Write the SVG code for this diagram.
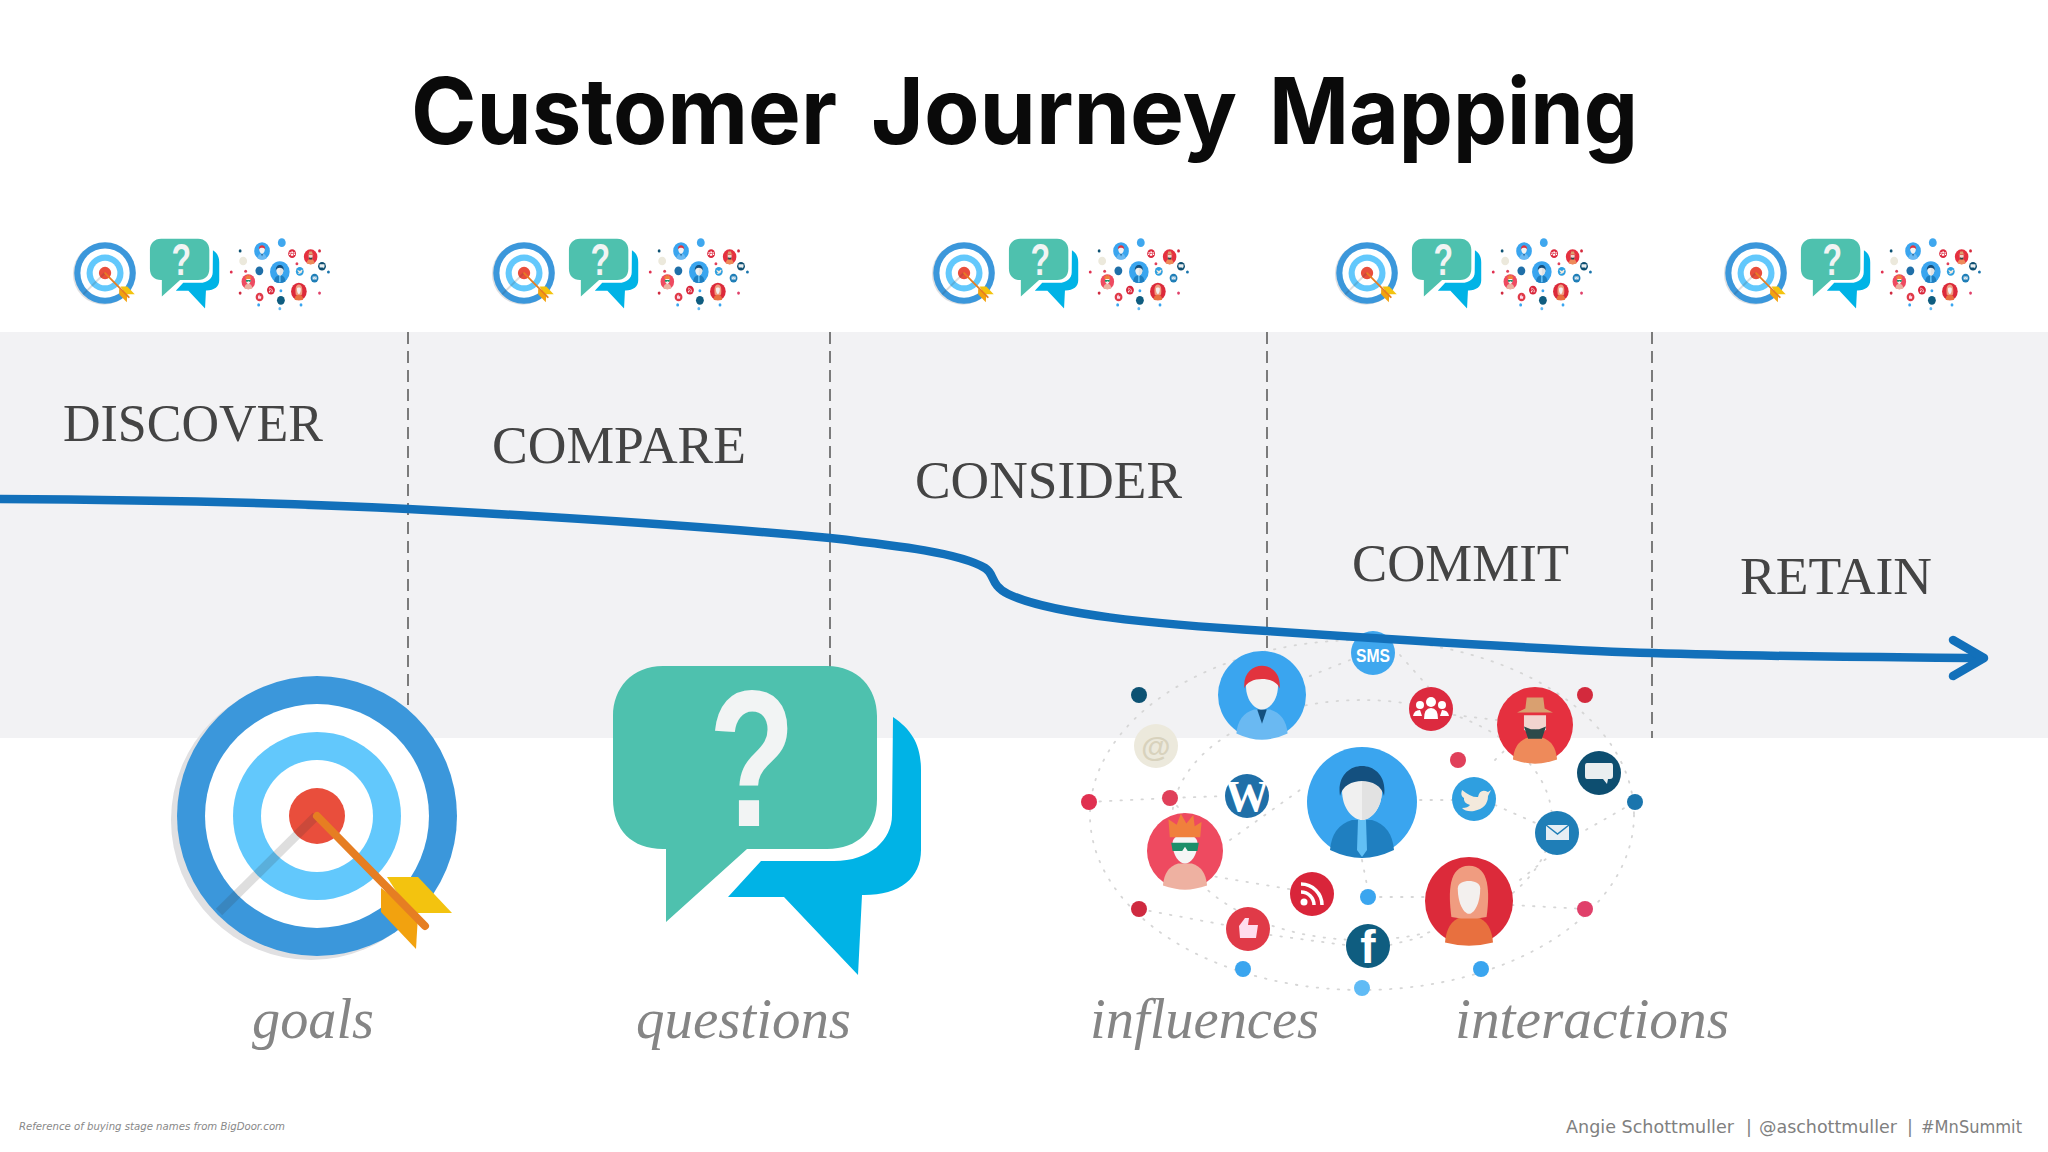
<svg xmlns="http://www.w3.org/2000/svg" xmlns:xlink="http://www.w3.org/1999/xlink" width="2048" height="1152" viewBox="0 0 2048 1152">
<style>
.title{font-family:"Inter","DejaVu Sans",sans-serif;font-weight:700;font-size:92px;fill:#0a0a0a}
.stage{font-family:"Liberation Serif","Times New Roman",serif;font-size:52px;fill:#444}
.cap{font-family:"Liberation Serif","Times New Roman",serif;font-style:italic;font-size:56px;fill:#858585}
.foot{font-family:"DejaVu Sans",sans-serif;font-size:17.500px;fill:#808080}
.ref{font-family:"DejaVu Sans",sans-serif;font-style:italic;font-size:11px;fill:#888}
.qm{font-family:"Liberation Sans",Arial,sans-serif;font-weight:700;font-size:195px;fill:#f2f4f4}
.gl{font-family:"Liberation Sans",Arial,sans-serif;font-weight:700;fill:#fff;text-anchor:middle}
.div{stroke:#7b7b7b;stroke-width:2;stroke-dasharray:12 7;fill:none}
.dots{stroke:#d6d6d6;stroke-width:1.800;stroke-dasharray:1.500 9;stroke-linecap:round;fill:none}
.curve{stroke:#1270ba;stroke-width:8.500;fill:none;stroke-linecap:round;stroke-linejoin:round}
</style>
<defs>
<g id="target">
<circle cx="311" cy="820" r="140" fill="#e0e0e2"/>
<circle cx="317" cy="816" r="140" fill="#3b97db"/>
<circle cx="317" cy="816" r="112" fill="#fff"/>
<circle cx="317" cy="816" r="84" fill="#62c8fc"/>
<circle cx="317" cy="816" r="56" fill="#fff"/>
<circle cx="317" cy="816" r="28" fill="#e94e3c"/>
<path d="M316 816L219 912" stroke="#333" stroke-opacity=".16" stroke-width="9" fill="none"/>
<path d="M381 888L418 915L416 949L381 912Z" fill="#f2a20f"/>
<path d="M387 877L418 877L452 913L410 913Z" fill="#f3c30f"/>
<path d="M317 816L425 926" stroke="#e67e22" stroke-width="8" stroke-linecap="round" fill="none"/>
</g>
<g id="bubbles">
<path d="M893 717C912 730 921 745 921 770L921 850C921 878 900 895 864 895L862 895L858 975L784 897L728 897L761 861L834 861C870 861 892 840 892 815Z" fill="#00b3e6"/>
<path d="M663 666L827 666C858 666 877 688 877 716L877 799C877 830 858 849 827 849L747 849L666 922L666 849L663 849C632 849 613 830 613 799L613 716C613 688 632 666 663 666Z" fill="#4ec1ae"/>
<text class="qm" text-anchor="middle" transform="translate(752 826) scale(.73 1)">?</text>
</g>
<g id="net-base">
<circle cx="1262" cy="695" r="44" fill="#3aa5ef"/>
<circle cx="1373" cy="653" r="22" fill="#3fa7ee"/>
<circle cx="1431" cy="709" r="22" fill="#dc2a3f"/>
<circle cx="1535" cy="725" r="38" fill="#e5303f"/>
<circle cx="1585" cy="695" r="8" fill="#d32a3d"/>
<circle cx="1139" cy="695" r="8" fill="#0d5273"/>
<circle cx="1156" cy="746" r="22" fill="#ece9dc"/>
<circle cx="1599" cy="773" r="22" fill="#0d4e70"/>
<circle cx="1362" cy="802" r="55" fill="#3aa5ef"/>
<circle cx="1458" cy="760" r="8" fill="#e0405a"/>
<circle cx="1474" cy="799" r="22" fill="#2f9fe0"/>
<circle cx="1247" cy="796" r="22" fill="#1f6fa8"/>
<circle cx="1089" cy="802" r="8" fill="#e03050"/>
<circle cx="1170" cy="798" r="8" fill="#e0405a"/>
<circle cx="1635" cy="802" r="8" fill="#1a75ad"/>
<circle cx="1557" cy="833" r="22" fill="#1f7eb7"/>
<circle cx="1185" cy="851" r="38" fill="#ee4a60"/>
<circle cx="1312" cy="894" r="22" fill="#d9253a"/>
<circle cx="1368" cy="897" r="8" fill="#3aa5ef"/>
<circle cx="1469" cy="901" r="44" fill="#dc2a3a"/>
<circle cx="1139" cy="909" r="8" fill="#cf2a40"/>
<circle cx="1585" cy="909" r="8" fill="#e0406a"/>
<circle cx="1248" cy="929" r="22" fill="#e03a48"/>
<circle cx="1368" cy="946" r="22" fill="#0f5d80"/>
<circle cx="1243" cy="969" r="8" fill="#3aa5ef"/>
<circle cx="1481" cy="969" r="8" fill="#3aa5ef"/>
<circle cx="1362" cy="988" r="8" fill="#60bbf5"/>
<!-- avatars -->
<g transform="translate(1362 802)">
<path d="M-32 48Q-30 24-10 18L10 18Q30 24 32 48Q15 56 0 56Q-15 56-32 48Z" fill="#1f7fc0"/>
<path d="M-4 18L4 18L5 48L0 55L-5 48Z" fill="#62c0f5"/>
<path d="M-20-12C-20-28 20-28 20-12C20 8 8 18 0 18C-8 18-20 8-20-12Z" fill="#f0f0f0"/>
<path d="M0-26C12-26 20-22 20-12C20 8 8 18 0 18Z" fill="#e2e2e2"/>
<path d="M-22-6C-28-46 28-46 22-6C18-26-18-26-22-6Z" fill="#14507f"/>
</g>
<g transform="translate(1262 695) scale(.8)">
<path d="M-32 48Q-30 24-10 18L10 18Q30 24 32 48Q15 56 0 56Q-15 56-32 48Z" fill="#6ab9f2"/>
<path d="M-6 18L6 18L0 36Z" fill="#14507f"/>
<path d="M-20-12C-20-28 20-28 20-12C20 8 8 18 0 18C-8 18-20 8-20-12Z" fill="#f2f2f2"/>
<path d="M-22-8C-26-46 26-46 22-8C18-24-18-24-22-8Z" fill="#e2333e"/>
</g>
<g transform="translate(1185 851) scale(.69)">
<path d="M-32 50Q-30 24-10 18L10 18Q30 24 32 50Q15 56 0 56Q-15 56-32 50Z" fill="#eeb1a1"/>
<path d="M-18-12C-18-28 18-28 18-12C18 8 8 18 0 18C-8 18-18 8-18-12Z" fill="#f5f5f5"/>
<path d="M-22-20L-24-46L-12-38L-6-54L2-40L12-52L14-36L24-42L22-20Z" fill="#f0803c"/>
<path d="M-20-12L20-12L18 0L4 0L0-6L-4 0L-18 0Z" fill="#1d8f6a"/>
</g>
<g transform="translate(1535 725) scale(.69)">
<path d="M-32 50Q-30 24-10 18L10 18Q30 24 32 50Q15 56 0 56Q-15 56-32 50Z" fill="#ee8a5a"/>
<path d="M-16-14L16-14L16 6C10 16-10 16-16 6Z" fill="#f2d4cf"/>
<path d="M-16 2L-6 6L6 6L16 2L10 20L-10 20Z" fill="#2d4a4a"/>
<path d="M-26-18L26-18L14-24L12-40L-12-40L-14-24Z" fill="#d9a070"/>
</g>
<g transform="translate(1469 901) scale(.8)">
<path d="M-30 52Q-28 26-10 20L10 20Q28 26 30 52Q15 56 0 56Q-15 56-30 52Z" fill="#e8703f"/>
<path d="M-22 20C-26-10-26-44 0-44C26-44 26-10 22 20L10 22L-10 22Z" fill="#f09c80"/>
<path d="M-14-16C-14-28 14-28 14-16C14 4 6 16 0 16C-6 16-14 4-14-16Z" fill="#f3f0ee"/>
</g>
<!-- glyph icons -->
<g fill="#fff">
<circle cx="1431" cy="702" r="5"/><circle cx="1420" cy="705" r="4"/><circle cx="1442" cy="705" r="4"/>
<path d="M1424 719Q1424 708 1431 708Q1438 708 1438 719Z"/><path d="M1413 716Q1414 710 1420 710L1422 716Z"/><path d="M1449 716Q1448 710 1442 710L1440 716Z"/>
<path d="M1587 763L1611 763Q1613 763 1613 766L1613 776Q1613 779 1610 779L1608 779L1607 784L1603 779L1587 779Q1585 779 1585 776L1585 766Q1585 763 1587 763Z" fill="#e9eef0"/>
<rect x="1546" y="825" width="23" height="15" fill="#e6eef4"/>
<path d="M1546 825L1557.500 834L1569 825" stroke="#1f7eb7" stroke-width="1.500" fill="none"/>
<path d="M1462 790Q1472 798 1478 797Q1480 788 1488 792L1491 790L1488 796Q1488 808 1474 811Q1466 812 1462 808Q1468 808 1470 805Q1463 803 1464 798Q1460 796 1462 790Z" fill="#f3e9dc"/>
<path d="M1239 926L1245 918L1249 918L1248 925L1258 925L1256 938L1240 938Z" fill="#fde"/>
<circle cx="1304" cy="902" r="3.500"/>
<path d="M1301 892A13 13 0 0 1 1314 905" stroke="#fff" stroke-width="3.500" fill="none"/>
<path d="M1301 884A21 21 0 0 1 1322 905" stroke="#fff" stroke-width="3.500" fill="none"/>
</g>
</g>
</defs>

<rect id="background" width="2048" height="1152" fill="#fff"/>
<rect id="band" x="0" y="332" width="2048" height="406" fill="#f2f2f4"/>

<g id="dividers">
<path class="div" d="M408 332V738"/>
<path class="div" d="M830 332V738"/>
<path class="div" d="M1267 332V738"/>
<path class="div" d="M1652 332V738"/>
</g>

<text class="title" y="144"><tspan x="411" textLength="426" lengthAdjust="spacingAndGlyphs">Customer</tspan> <tspan x="871" textLength="366" lengthAdjust="spacingAndGlyphs">Journey</tspan> <tspan x="1269" textLength="369" lengthAdjust="spacingAndGlyphs">Mapping</tspan></text>

<g id="icon-row">
<g id="icons-1"><use xlink:href="#target" transform="translate(35.300 93.500) scale(.22)"/><use xlink:href="#bubbles" transform="translate(12 89) scale(.225)"/><use xlink:href="#net-base" transform="translate(37.400 114) scale(.178 .197)"/></g>
<g id="icons-2" transform="translate(419 0)"><use xlink:href="#target" transform="translate(35.300 93.500) scale(.22)"/><use xlink:href="#bubbles" transform="translate(12 89) scale(.225)"/><use xlink:href="#net-base" transform="translate(37.400 114) scale(.178 .197)"/></g>
<g id="icons-3" transform="translate(859 0)"><use xlink:href="#target" transform="translate(35.300 93.500) scale(.22)"/><use xlink:href="#bubbles" transform="translate(12 89) scale(.225)"/><use xlink:href="#net-base" transform="translate(37.400 114) scale(.178 .197)"/></g>
<g id="icons-4" transform="translate(1262 0)"><use xlink:href="#target" transform="translate(35.300 93.500) scale(.22)"/><use xlink:href="#bubbles" transform="translate(12 89) scale(.225)"/><use xlink:href="#net-base" transform="translate(37.400 114) scale(.178 .197)"/></g>
<g id="icons-5" transform="translate(1651 0)"><use xlink:href="#target" transform="translate(35.300 93.500) scale(.22)"/><use xlink:href="#bubbles" transform="translate(12 89) scale(.225)"/><use xlink:href="#net-base" transform="translate(37.400 114) scale(.178 .197)"/></g>
</g>

<g id="stage-discover"><text class="stage" x="63" y="441" textLength="260" lengthAdjust="spacingAndGlyphs">DISCOVER</text></g>
<g id="stage-compare"><text class="stage" x="492" y="463" textLength="254" lengthAdjust="spacingAndGlyphs">COMPARE</text></g>
<g id="stage-consider"><text class="stage" x="915" y="498" textLength="267" lengthAdjust="spacingAndGlyphs">CONSIDER</text></g>
<g id="stage-commit"><text class="stage" x="1352" y="581" textLength="217" lengthAdjust="spacingAndGlyphs">COMMIT</text></g>
<g id="stage-retain"><text class="stage" x="1740" y="594" textLength="192" lengthAdjust="spacingAndGlyphs">RETAIN</text></g>

<g id="goals"><use xlink:href="#target"/><text class="cap" x="252" y="1038" textLength="122" lengthAdjust="spacingAndGlyphs">goals</text></g>
<g id="questions"><use xlink:href="#bubbles"/><text class="cap" x="636" y="1038" textLength="215" lengthAdjust="spacingAndGlyphs">questions</text></g>
<g id="influences">
<g class="dots">
<ellipse cx="1362" cy="815" rx="272" ry="175"/>
<ellipse cx="1362" cy="820" rx="190" ry="120"/>
<path d="M1089 802L1170 798L1225 796"/>
<path d="M1230 840L1300 790"/>
<path d="M1205 875L1295 890"/>
<path d="M1139 909L1225 925"/>
<path d="M1270 935L1345 945"/>
<path d="M1380 897L1425 897"/>
<path d="M1512 905L1585 909"/>
<path d="M1420 800L1452 800"/>
<path d="M1495 805L1540 825"/>
<path d="M1495 760L1505 750"/>
<path d="M1362 860L1368 890"/>
<path d="M1400 655L1431 690"/>
<path d="M1454 715L1497 720"/>
<path d="M1170 798L1185 815"/>
<path d="M1300 680L1350 660"/>
<path d="M1577 835L1635 802"/>
<path d="M1520 880L1557 850"/>
<path d="M1390 945L1430 935"/>
</g>
<use xlink:href="#net-base"/>
<text class="gl" x="1373" y="662" font-size="19" textLength="34" lengthAdjust="spacingAndGlyphs">SMS</text>
<text class="gl" x="1156" y="757" font-size="30" style="fill:#d8d2bd">@</text>
<text class="gl" x="1247" y="811" font-size="44" style="font-family:'Liberation Serif',serif">W</text>
<text class="gl" x="1368" y="963" font-size="46">f</text>
<text class="cap" x="1090" y="1038" textLength="229" lengthAdjust="spacingAndGlyphs">influences</text>
<text class="cap" x="1455" y="1038" textLength="274" lengthAdjust="spacingAndGlyphs">interactions</text>
</g>

<g id="connectors">
<path class="curve" d="M0 499C170 500 290 503 408 509C560 517 700 526 830 538C900 546 960 553 985 568C995 574 990 585 1008 594C1050 614 1150 624 1267 631C1400 640 1550 650 1652 653C1780 657 1880 657 1980 658"/>
<path class="curve" d="M1953 640L1984 658L1953 676"/>
</g>

<text class="foot" y="1133"><tspan x="1566" textLength="168" lengthAdjust="spacingAndGlyphs">Angie Schottmuller</tspan> <tspan x="1746">|</tspan> <tspan x="1759" textLength="138" lengthAdjust="spacingAndGlyphs">@aschottmuller</tspan> <tspan x="1907">|</tspan> <tspan x="1921" textLength="101" lengthAdjust="spacingAndGlyphs">#MnSummit</tspan></text>
<text class="ref" x="19" y="1130" textLength="266" lengthAdjust="spacingAndGlyphs">Reference of buying stage names from BigDoor.com</text>
</svg>
